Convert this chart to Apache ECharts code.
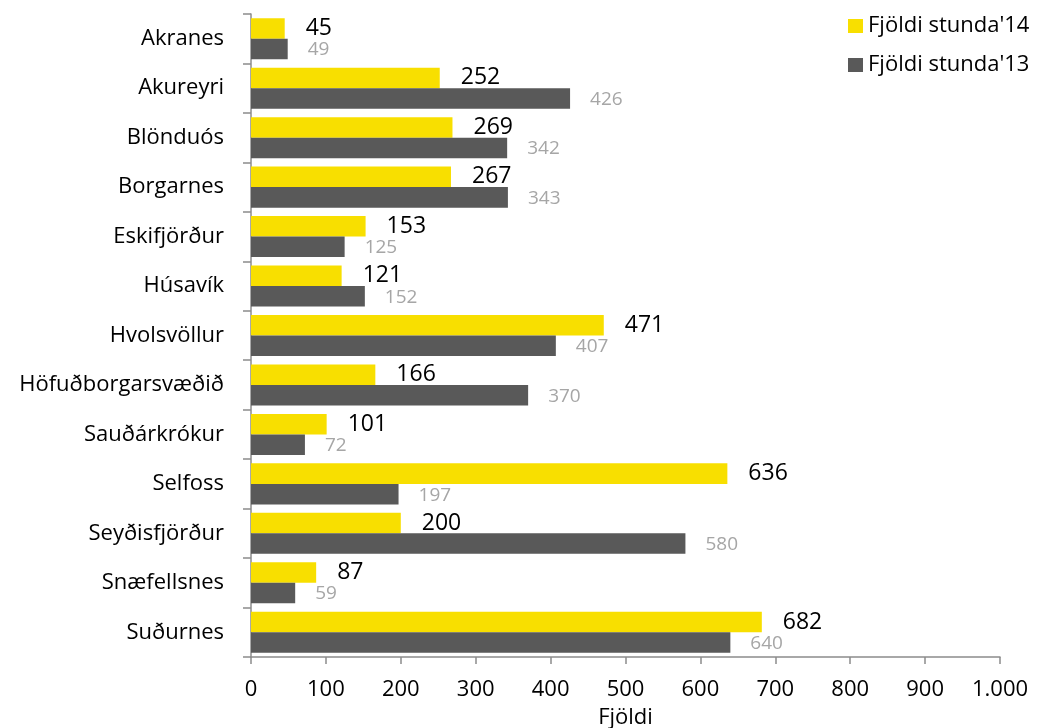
<!DOCTYPE html>
<html>
<head>
<meta charset="utf-8">
<script src="https://cdn.jsdelivr.net/npm/echarts@6/dist/echarts.min.js"></script>
<style>
  html, body { margin: 0; padding: 0; background: #fff; }
  #chart { width: 1039px; height: 728px; }
</style>
</head>
<body>
<div id="chart"></div>
<script>
// flokkar (staðir)
const categories = ['Akranes', 'Akureyri', 'Blönduós', 'Borgarnes', 'Eskifjörður', 'Húsavík',
  'Hvolsvöllur', 'Höfuðborgarsvæðið', 'Sauðárkrókur', 'Selfoss', 'Seyðisfjörður', 'Snæfellsnes', 'Suðurnes'];
const hours14 = [45, 252, 269, 267, 153, 121, 471, 166, 101, 636, 200, 87, 682];
const hours13 = [49, 426, 342, 343, 125, 152, 407, 370, 72, 197, 580, 59, 640];
const seriesNames = ["Fjöldi stunda'14", "Fjöldi stunda'13"];

const font = 'Open Sans';
const axisGray = '#8c8c8c';

const chart = echarts.init(document.getElementById('chart'));
chart.setOption({
  animation: false,
  textStyle: { fontFamily: font },
  color: ['#f8df00', '#595959'],
  legend: {
    orient: 'vertical',
    left: 843,
    top: 10,
    itemWidth: 15,
    itemHeight: 14,
    itemGap: 17,
    icon: 'rect',
    textStyle: { fontSize: 22, color: '#000', fontFamily: font },
    data: seriesNames
  },
  grid: { left: 251, right: 39, top: 14, bottom: 71, outerBoundsMode: 'none' },
  xAxis: {
    type: 'value',
    min: 0,
    max: 1000,
    interval: 100,
    name: 'Fjöldi',
    nameLocation: 'middle',
    nameGap: 50,
    nameTextStyle: { fontSize: 22, color: '#000' },
    axisLine: { show: true, lineStyle: { color: axisGray, width: 1.5 } },
    axisTick: { show: true, length: 7, lineStyle: { color: axisGray, width: 1.5 } },
    splitLine: { show: false },
    axisLabel: {
      fontSize: 22, color: '#000', margin: 22,
      formatter: v => v >= 1000 ? '1.000' : String(v)
    }
  },
  yAxis: {
    type: 'category',
    inverse: true,
    data: categories,
    axisLine: { show: true, lineStyle: { color: axisGray, width: 1.5 } },
    axisTick: { show: true, length: 8, lineStyle: { color: axisGray, width: 1.5 } },
    axisLabel: { fontSize: 22, color: '#000', margin: 27 }
  },
  series: [
    {
      name: seriesNames[0],
      type: 'bar',
      data: hours14,
      barGap: '0%',
      barCategoryGap: '17%',
      label: {
        show: true, position: 'right', distance: 21,
        fontSize: 23, color: '#000', offset: [0, 0]
      }
    },
    {
      name: seriesNames[1],
      type: 'bar',
      data: hours13,
      barGap: '0%',
      barCategoryGap: '17%',
      label: {
        show: true, position: 'right', distance: 20,
        fontSize: 19, color: '#a6a6a6', offset: [0, 1]
      }
    }
  ]
});
</script>
</body>
</html>
